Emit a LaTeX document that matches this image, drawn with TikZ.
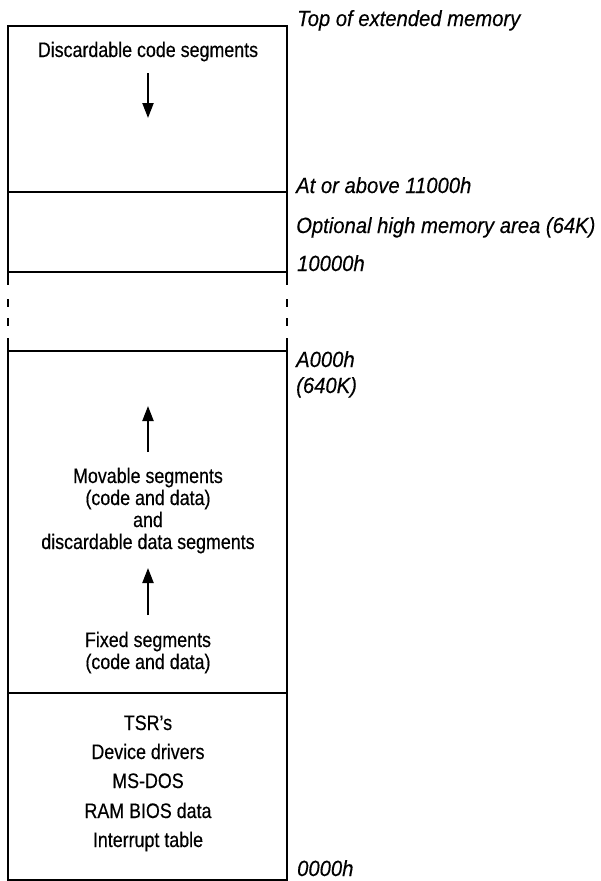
\documentclass[tikz,border=0pt]{standalone}
\usepackage{fontspec}
\setmainfont{Liberation Sans}
\newfontfamily\boxfont[FakeStretch=0.85,FakeBold=0.4]{Liberation Sans}
\newfontfamily\lblfont[FakeStretch=0.92,FakeBold=0.3]{Liberation Sans}
\usetikzlibrary{arrows.meta}
\tikzset{
  boxtext/.style={anchor=base, inner sep=0pt, font=\boxfont\fontsize{21}{22}\selectfont},
  lbltext/.style={anchor=base west, inner sep=0pt, font=\lblfont\itshape\fontsize{22}{26}\selectfont},
  vline/.style={line width=2.4pt},
  hline/.style={line width=1.8pt},
  growarrow/.style={line width=2.2pt, -{Triangle[length=15pt,width=11pt]}},
}
\begin{document}
\begin{tikzpicture}[x=1pt,y=-1pt]
\useasboundingbox (0,0) rectangle (600,881);
% box edges
\draw[hline] (7,26) -- (288,26);
\draw[hline] (8,192) -- (287,192);
\draw[hline] (8,272) -- (287,272);
\draw[hline] (8,351) -- (287,351);
\draw[hline] (8,693) -- (287,693);
\draw[hline] (7,880) -- (288,880);
\foreach \xx in {8,287}{
  \draw[vline] (\xx,26) -- (\xx,285);
  \draw[vline] (\xx,299) -- (\xx,307);
  \draw[vline] (\xx,318) -- (\xx,326);
  \draw[vline] (\xx,338) -- (\xx,880);
}
% box texts
\node[boxtext] (dcs) at (148,57) {Discardable code segments};
\node[boxtext] (mov1) at (148,483) {Movable segments};
\node[boxtext] (mov2) at (148,505) {(code and data)};
\node[boxtext] (mov3) at (148,527) {and};
\node[boxtext] (mov4) at (148,549) {discardable data segments};
\node[boxtext] (fix1) at (148,647) {Fixed segments};
\node[boxtext] (fix2) at (148,669) {(code and data)};
\node[boxtext] (tsr) at (148,730) {TSR’s};
\node[boxtext] (dev) at (148,759) {Device drivers};
\node[boxtext] (dos) at (148,788) {MS-DOS};
\node[boxtext] (bios) at (148,818) {RAM BIOS data};
\node[boxtext] (intr) at (148,847) {Interrupt table};
% arrows
\coordinate (a1s) at (148,73);  \coordinate (a1e) at (148,118);
\coordinate (a2s) at (148,452); \coordinate (a2e) at (148,406);
\coordinate (a3s) at (148,615); \coordinate (a3e) at (148,568);
\draw[growarrow] (a1s) -- (a1e);
\draw[growarrow] (a2s) -- (a2e);
\draw[growarrow] (a3s) -- (a3e);
% address labels
\node[lbltext] (ltop) at (297,26) {Top of extended memory};
\node[lbltext] (l11) at (296,193) {At or above 11000h};
\node[lbltext] (lhma) at (296,233) {Optional high memory area (64K)};
\node[lbltext] (l10) at (297,271) {10000h};
\node[lbltext] (la0) at (296,367) {A000h};
\node[lbltext] (l640) at (296,393) {(640K)};
\node[lbltext] (l0) at (297,876) {0000h};
\end{tikzpicture}
\end{document}
